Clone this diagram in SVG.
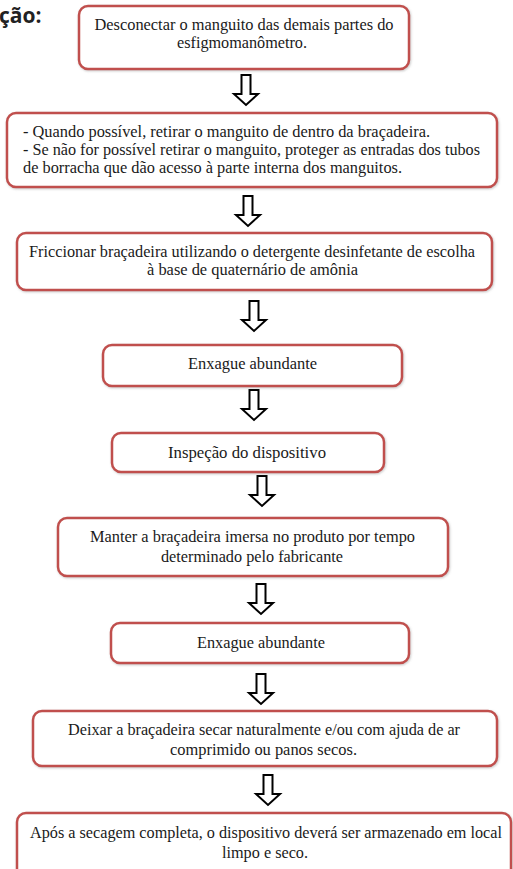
<svg xmlns="http://www.w3.org/2000/svg" width="513" height="869" viewBox="0 0 513 869">
<defs>
<style>
.box{fill:#fff;stroke:#c0504d;stroke-width:2.5;filter:url(#sh)}
.t{font-family:'Liberation Serif','Times New Roman',Tinos,'DejaVu Serif',serif;font-size:16px;fill:#1a1a1a}
.c{text-anchor:middle}
.arr{fill:#fff;stroke:#000;stroke-width:2;stroke-linejoin:miter}
.title{font-family:'Open Sans','Noto Sans',sans-serif;font-weight:bold;font-size:21px;fill:#222}
</style>
<filter id="sh" x="-5%" y="-20%" width="110%" height="140%">
<feDropShadow dx="0.8" dy="1" stdDeviation="1" flood-color="#888" flood-opacity="0.45"/>
</filter>
<path id="a" d="M-4.5,0 H4.5 V19 H12 L0,30 L-12,19 H-4.5 Z"/>
</defs>
<rect width="513" height="869" fill="#fff"/>
<text class="title" x="-1" y="23">ção:</text>

<g id="connectors">
<use href="#a" class="arr" transform="translate(246,75)"/>
<use href="#a" class="arr" transform="translate(248,196)"/>
<use href="#a" class="arr" transform="translate(254,301)"/>
<use href="#a" class="arr" transform="translate(254,390)"/>
<use href="#a" class="arr" transform="translate(262,476)"/>
<use href="#a" class="arr" transform="translate(261,584)"/>
<use href="#a" class="arr" transform="translate(261,674)"/>
<use href="#a" class="arr" transform="translate(268,775)"/>
</g>

<g id="n1">
<rect class="box" x="79" y="6" width="330" height="63" rx="9"/>
<text class="t c" font-family="Liberation Serif, DejaVu Serif, serif" x="244" y="30" textLength="299" lengthAdjust="spacingAndGlyphs">Desconectar o manguito das demais partes do</text>
<text class="t c" font-family="Liberation Serif, DejaVu Serif, serif" x="242" y="48" textLength="130" lengthAdjust="spacingAndGlyphs">esfigmomanômetro.</text>
</g>

<g id="n2">
<rect class="box" x="7" y="113" width="490" height="74" rx="9"/>
<text class="t" x="23" y="137" textLength="407" lengthAdjust="spacingAndGlyphs">- Quando possível, retirar o manguito de dentro da braçadeira.</text>
<text class="t" x="23" y="155" textLength="457" lengthAdjust="spacingAndGlyphs">- Se não for possível retirar o manguito, proteger as entradas dos tubos</text>
<text class="t" x="23" y="173" textLength="379" lengthAdjust="spacingAndGlyphs">de borracha que dão acesso à parte interna dos manguitos.</text>
</g>

<g id="n3">
<rect class="box" x="17" y="233" width="475" height="57" rx="9"/>
<text class="t c" x="252" y="257" textLength="446" lengthAdjust="spacingAndGlyphs">Friccionar braçadeira utilizando o detergente desinfetante de escolha</text>
<text class="t c" x="252.5" y="275" textLength="211" lengthAdjust="spacingAndGlyphs">à base de quaternário de amônia</text>
</g>

<g id="n4">
<rect class="box" x="103" y="345" width="299" height="41" rx="9"/>
<text class="t c" x="252.5" y="369" textLength="129" lengthAdjust="spacingAndGlyphs">Enxague abundante</text>
</g>

<g id="n5">
<rect class="box" x="112" y="433" width="272" height="39" rx="9"/>
<text class="t c" x="247" y="458" textLength="158" lengthAdjust="spacingAndGlyphs">Inspeção do dispositivo</text>
</g>

<g id="n6">
<rect class="box" x="58" y="518" width="390" height="58" rx="9"/>
<text class="t c" x="252.5" y="542" textLength="325" lengthAdjust="spacingAndGlyphs">Manter a braçadeira imersa no produto por tempo</text>
<text class="t c" x="252" y="562" textLength="182" lengthAdjust="spacingAndGlyphs">determinado pelo fabricante</text>
</g>

<g id="n7">
<rect class="box" x="111" y="623" width="298" height="40" rx="9"/>
<text class="t c" x="261" y="648" textLength="128" lengthAdjust="spacingAndGlyphs">Enxague abundante</text>
</g>

<g id="n8">
<rect class="box" x="33" y="711" width="464" height="55" rx="9"/>
<text class="t c" x="264" y="735" textLength="392" lengthAdjust="spacingAndGlyphs">Deixar a braçadeira secar naturalmente e/ou com ajuda de ar</text>
<text class="t c" x="263.5" y="755" textLength="187" lengthAdjust="spacingAndGlyphs">comprimido ou panos secos.</text>
</g>

<g id="n9">
<rect class="box" x="17" y="813" width="494" height="70" rx="9"/>
<text class="t c" x="266" y="838" textLength="472" lengthAdjust="spacingAndGlyphs">Após a secagem completa, o dispositivo deverá ser armazenado em local</text>
<text class="t c" x="265" y="858" textLength="86" lengthAdjust="spacingAndGlyphs">limpo e seco.</text>
</g>
</svg>
